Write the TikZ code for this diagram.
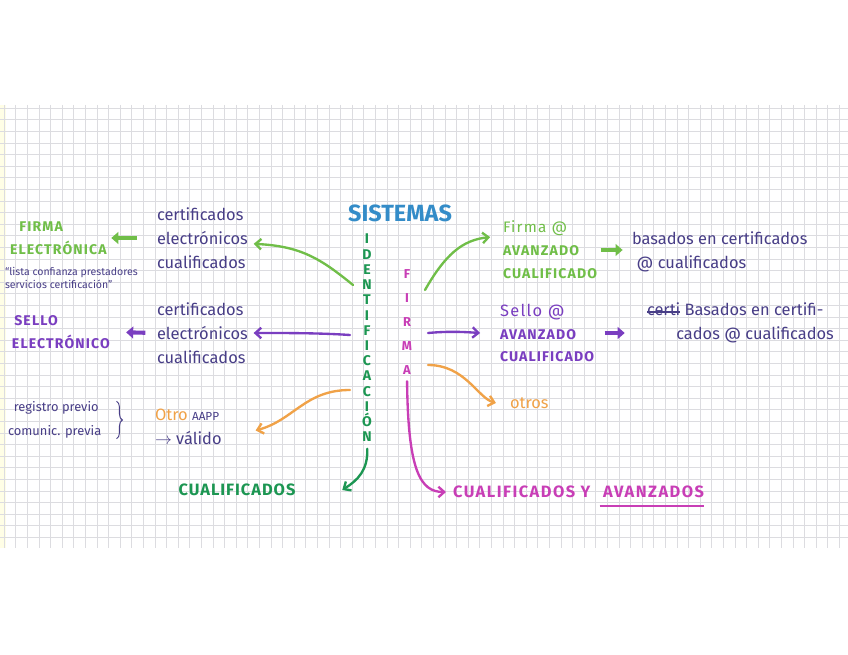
\documentclass[tikz,border=0pt]{standalone}
\usepackage{fontspec}
\setmainfont{Fira Sans}
\usetikzlibrary{arrows.meta, positioning, calc, decorations.pathreplacing}
\definecolor{InkBlue}{RGB}{72, 62, 135}
\definecolor{LeafGreen}{RGB}{112, 190, 72}
\definecolor{DeepGreen}{RGB}{28, 150, 82}
\definecolor{SkyBlue}{RGB}{52, 140, 200}
\definecolor{Violet}{RGB}{122, 62, 192}
\definecolor{Tangerine}{RGB}{240, 162, 72}
\definecolor{Orchid}{RGB}{200, 62, 182}
\definecolor{GridGray}{RGB}{220, 220, 224}
\newcommand{\crossword}[1]{\setbox0\hbox{#1}\rlap{\raisebox{0.35ex}{\rule{\wd0}{1.2pt}}}\box0\relax}

\begin{document}
\begin{tikzpicture}[
    x=0.03cm, y=-0.03cm,
    every node/.style={inner sep=0pt, outer sep=0pt},
    hand/.style={font=\fontsize{14}{20.4}\selectfont, text=InkBlue, align=left},
    small/.style={font=\fontsize{9}{11}\selectfont, text=InkBlue, align=left},
    caps/.style={font=\bfseries\fontsize{12}{19.5}\selectfont\addfontfeatures{LetterSpace=8}, align=left},
    bigcaps/.style={font=\bfseries\fontsize{14}{14}\selectfont\addfontfeatures{LetterSpace=6}},
    widecaps/.style={font=\bfseries\fontsize{14}{14}\selectfont\addfontfeatures{LetterSpace=9}},
    stack/.style={font=\bfseries\fontsize{12}{13}\selectfont, align=center},
    pen/.style={line width=2pt, line cap=round, -{Straight Barb[length=5pt, width=9pt]}},
    fat/.style={line width=3.5pt, -{Triangle[length=6pt, width=10pt]}}
]
\useasboundingbox (0,0) rectangle (848,655);
\fill[white] (0,0) rectangle (848,655);
\fill[yellow!10] (0,105) rectangle (6,548);
\foreach \gx in {0,...,72}
    \draw[GridGray, line width=0.5pt] (\gx*11.6+4, 105) -- (\gx*11.6+4, 548);
\foreach \gy in {0,...,37}
    \draw[GridGray, line width=0.5pt] (0, \gy*11.6+108) -- (848, \gy*11.6+108);

\node[font=\bfseries\fontsize{20}{20}\selectfont, text=SkyBlue] (sis) at (400,213) {SISTEMAS};
\node[stack, text=DeepGreen] (ident) at (367,338) {I\\D\\E\\N\\T\\I\\F\\I\\C\\A\\C\\I\\Ó\\N};
\node[stack, font=\bfseries\fontsize{11}{20.4}\selectfont, text=Orchid] (firma) at (407,322) {F\\I\\R\\M\\A};

\node[hand, anchor=west] (certA) at (157,238) {certificados\\electrónicos\\cualificados};
\node[caps, text=LeafGreen, anchor=west] (firmaE) at (10,238) {\hspace*{8pt}FIRMA\\ELECTRÓNICA};
\node[small, anchor=north west] (lista) at (5,267) {“lista confianza prestadores\\servicios certificación”};
\node[hand, anchor=west] (certB) at (157,333) {certificados\\electrónicos\\cualificados};
\node[caps, text=Violet, anchor=west] (selloE) at (12,332) {\hspace*{2pt}SELLO\\ELECTRÓNICO};
\node[hand, anchor=west] (otroA) at (155,427) {{\color{Tangerine}Otro} {\fontsize{10}{10}\selectfont AAPP}\\$\to$ válido};
\node[font=\fontsize{11}{21}\selectfont, text=InkBlue, align=left, anchor=west] (registro) at (8,420) {\hspace*{5pt}registro previo\\comunic. previa};
\node[bigcaps, text=DeepGreen] (cualiL) at (237,490) {CUALIFICADOS};

\node[caps, text=LeafGreen, anchor=west] (firmaAv) at (503,250) {{\mdseries\fontsize{13}{19.5}\selectfont Firma @}\\AVANZADO\\CUALIFICADO};
\node[hand, anchor=west] (basados) at (632,252) {basados en certificados\\\hspace*{4pt}@ cualificados};
\node[caps, text=Violet, anchor=west] (selloAv) at (500,333) {{\mdseries\fontsize{14}{19.5}\selectfont Sello @}\\AVANZADO\\CUALIFICADO};
\node[hand, anchor=west] (basados2) at (647,323) {\crossword{certi} Basados en certifi-\\\hspace*{25pt}cados @ cualificados};
\node[hand, text=Tangerine, anchor=west] (otros) at (510,403) {otros};
\node[widecaps, text=Orchid, anchor=west] (cualiR) at (453,492) {CUALIFICADOS Y};
\node[widecaps, text=Orchid, right=11pt of cualiR] (avanz) {AVANZADOS};

\draw[InkBlue, line width=0.8pt, decorate, decoration={brace, amplitude=5pt}] ([xshift=13pt]registro.north east) -- ([xshift=13pt]registro.south east);
\draw[Orchid, line width=2pt] ([shift={(-3pt,-7pt)}]avanz.south west) -- ([yshift=-7pt]avanz.south east);

\coordinate (gL) at (353,285);
\coordinate (vL) at (350,335);
\coordinate (oL) at (350,390);
\coordinate (gR) at (425,290);
\coordinate (vR) at (428,333);
\coordinate (oR) at (428,365);
\draw[pen, LeafGreen] (gL) .. controls (320,258) and (300,246) .. ([shift={(5pt,-5pt)}]certA.east);
\draw[pen, Violet] (vL) .. controls (320,333) and (290,333) .. ([xshift=5pt]certB.east);
\draw[pen, Tangerine] (oL) .. controls (305,390) and (294,420) .. ([shift={(29pt,-3pt)}]otroA.east);
\draw[pen, DeepGreen, shorten <=6pt] (ident.south) .. controls (368,470) and (358,480) .. ([xshift=40pt]cualiL.east);
\draw[pen, Orchid, shorten <=6pt] (firma.south) .. controls (408,470) and (420,492) .. ([xshift=-6pt]cualiR.west);
\draw[pen, LeafGreen] (gR) .. controls (445,255) and (462,240) .. ([shift={(-11pt,11pt)}]firmaAv.west);
\draw[pen, Violet] (vR) .. controls (450,331) and (465,332) .. ([xshift=-17pt]selloAv.west);
\draw[pen, Tangerine] (oR) .. controls (465,365) and (478,398) .. ([xshift=-12pt]otros.west);

\draw[fat, LeafGreen, shorten <=17pt, shorten >=4pt] (certA.west) -- (firmaE.east);
\draw[fat, Violet, shorten <=10pt, shorten >=14pt] (certB.west) -- (selloE.east);
\draw[fat, LeafGreen, shorten <=3pt, shorten >=8pt] (firmaAv.east) -- (firmaAv.east -| basados.west);
\draw[fat, Violet, shorten <=9pt, shorten >=19pt] (selloAv.east) -- (selloAv.east -| basados2.west);
\end{tikzpicture}
\end{document}
